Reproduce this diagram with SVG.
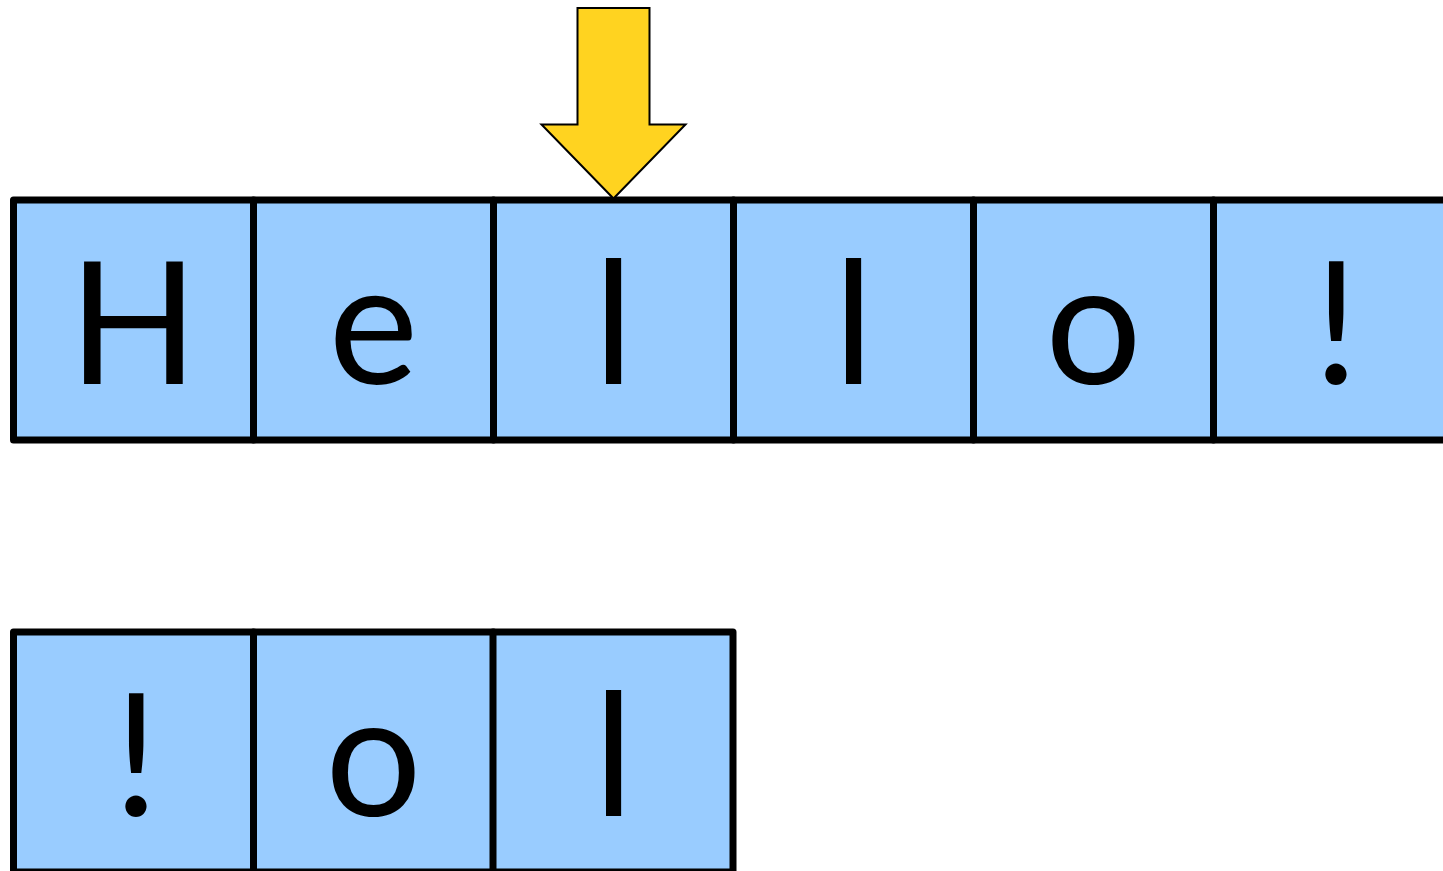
<svg xmlns="http://www.w3.org/2000/svg" width="1443" height="871" viewBox="0 0 1443 871">
<style>
.cell{fill:#99CCFF;stroke:#000;stroke-width:7;stroke-linejoin:round}
.ch{font-family:Lato,"Open Sans","Liberation Sans",sans-serif;font-size:170px;fill:#000;text-anchor:middle}
.arrow{fill:#FFD320;stroke:#000;stroke-width:2;stroke-linejoin:miter}
</style>
<rect width="1443" height="871" fill="#fff"/>
<g id="row1">
<g id="c1"><rect class="cell" x="13.5" y="200" width="240" height="240"/><text class="ch" x="133.5" y="384">H</text></g>
<g id="c2"><rect class="cell" x="253.5" y="200" width="240" height="240"/><text class="ch" x="373.5" y="384">e</text></g>
<g id="c3"><rect class="cell" x="493.5" y="200" width="240" height="240"/><text class="ch" x="613.5" y="384">l</text></g>
<g id="c4"><rect class="cell" x="733.5" y="200" width="240" height="240"/><text class="ch" x="853.5" y="384">l</text></g>
<g id="c5"><rect class="cell" x="973.5" y="200" width="240" height="240"/><text class="ch" x="1093.5" y="384">o</text></g>
<g id="c6"><rect class="cell" x="1213.5" y="200" width="240" height="240"/><text class="ch" x="1336" y="384">!</text></g>
</g>
<g id="row2">
<g id="d1"><rect class="cell" x="13.5" y="632" width="240" height="240"/><text class="ch" x="136" y="816">!</text></g>
<g id="d2"><rect class="cell" x="253.5" y="632" width="240" height="240"/><text class="ch" x="373.5" y="816">o</text></g>
<g id="d3"><rect class="cell" x="493" y="632" width="240" height="240"/><text class="ch" x="613.5" y="816">l</text></g>
</g>
<g id="connectors">
<g id="pointer"><path class="arrow" d="M577.5 8 H649.5 V124.5 H685.5 L613.5 198.5 L541.5 124.5 H577.5 Z"/></g>
</g>
</svg>
